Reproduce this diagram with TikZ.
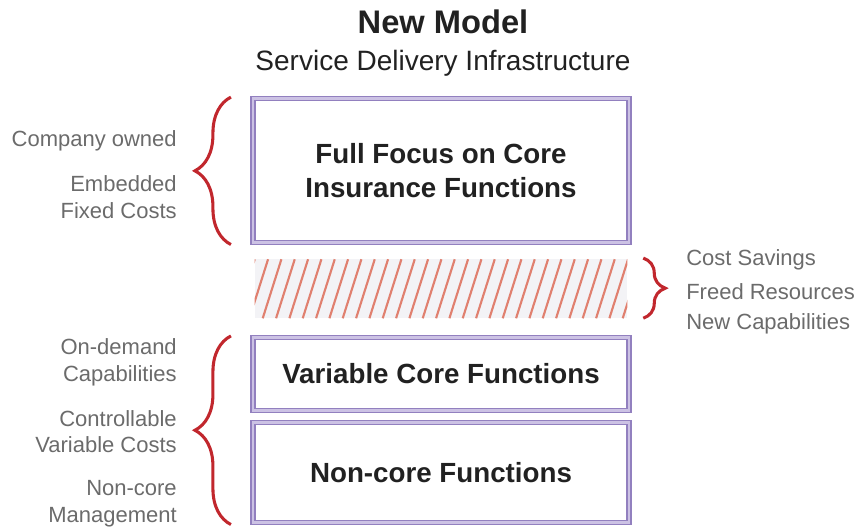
\documentclass[tikz,border=0pt]{standalone}
\usepackage{fontspec}
\setmainfont{Liberation Sans}
\usetikzlibrary{decorations.pathreplacing}
\definecolor{boxline}{HTML}{9280BF}
\definecolor{boxband}{HTML}{CCC2E4}
\definecolor{bracered}{HTML}{C1272D}
\definecolor{hatchred}{HTML}{E0806F}
\definecolor{labelgray}{HTML}{6B6B6B}
\definecolor{gapfill}{HTML}{F3F3F6}
\tikzset{
  layer/.style={draw=boxline, line width=1.1pt, double=boxband, double distance=1.8pt,
    minimum width=282pt, inner sep=0pt, align=center, text=black!87,
    font=\fontsize{20.8}{25.5}\selectfont\bfseries},
  side/.style={inner sep=0pt, text=labelgray, font=\fontsize{16.5}{20}\selectfont},
  curly/.style={draw=bracered, line width=2.3pt, decorate, decoration={brace, amplitude=#1}},
  hatch/.style={draw=hatchred, line width=1.6pt},
}
\begin{document}
\begin{tikzpicture}[x=0.75pt,y=-0.75pt]
  \useasboundingbox (0,0) rectangle (864,527);
  \node[text=black!87, font=\fontsize{24.5}{28}\selectfont\bfseries] (title) at (443,22) {New Model};
  \node[text=black!87, font=\fontsize{21}{24}\selectfont] (subtitle) at (443,63) {Service Delivery Infrastructure};

  \node[layer, minimum height=108pt] (core) at (441,170.5) {Full Focus on Core\\Insurance Functions};
  \node[layer, minimum height=55pt] (varcore) at (441,374) {Variable Core Functions};
  \node[layer, minimum height=75pt] (noncore) at (441,472.5) {Non-core Functions};

  \node[fill=gapfill, inner sep=0pt, minimum width=279pt, minimum height=44.25pt] (gap) at (441,288.5) {};
  \begin{scope}
    \clip (gap.south west) rectangle (gap.north east);
    \foreach \i in {0,...,29}
      \draw[hatch] ([xshift=\i*10pt-14pt]gap.south west) -- ++(14pt,44.25pt);
  \end{scope}

  \draw[curly=27pt] ([xshift=-16pt,yshift=-1pt]core.south west) -- ([xshift=-16pt,yshift=0.5pt]core.north west);
  \draw[curly=27pt] ([xshift=-16pt,yshift=-1pt]noncore.south west) -- ([xshift=-16pt,yshift=0.5pt]varcore.north west);
  \draw[curly=16.5pt] ([xshift=12pt,yshift=0.5pt]gap.north east) -- ([xshift=12pt]gap.south east);

  \node[side, anchor=east] (owned) at (177,140.5) {Company owned};
  \node[side, anchor=east, align=right] (fixed) at (177,197) {Embedded\\Fixed Costs};
  \node[side, anchor=east, align=right] (ondemand) at (177,362.5) {On-demand\\Capabilities};
  \node[side, anchor=east, align=right] (variable) at (177,431.5) {Controllable\\Variable Costs};
  \node[side, anchor=east, align=right] (mgmt) at (177,503.5) {Non-core\\Management};

  \node[side, anchor=west] (savings) at (686,260) {Cost Savings};
  \node[side, anchor=west] (freed) at (686,292) {Freed Resources};
  \node[side, anchor=west] (newcap) at (686,324) {New Capabilities};
\end{tikzpicture}
\end{document}
